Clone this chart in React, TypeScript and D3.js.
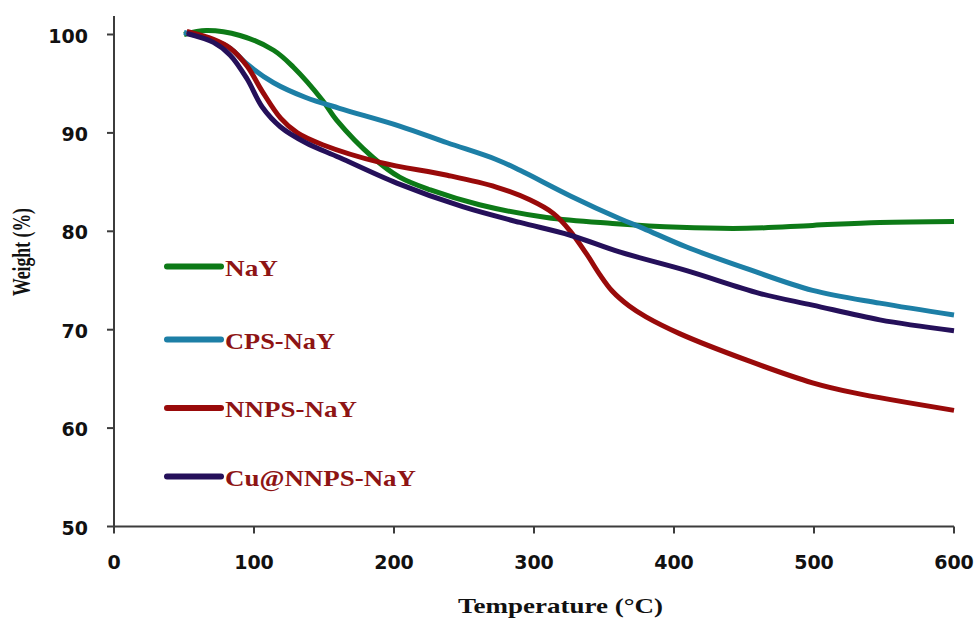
import { useEffect, useRef } from "react";
import * as d3 from "d3";

// TGA curves: temperature (°C) / weight (%)
const nayT = [50, 66, 90, 114, 128, 149, 159, 185, 204, 226, 261, 309, 356, 404, 452, 499, 547, 600];
const nayW = [100, 100.4, 99.9, 98.4, 96.7, 93.3, 91.3, 87.5, 85.5, 84.2, 82.7, 81.4, 80.8, 80.4, 80.3, 80.6, 80.9, 81.0];

const cpsT = [50, 71, 83, 95, 114, 137, 161, 204, 238, 273, 290, 326, 361, 378, 409, 452, 499, 547, 600];
const cpsW = [100.2, 99.4, 98.6, 97.0, 95.1, 93.6, 92.5, 90.7, 89.0, 87.3, 86.2, 83.6, 81.3, 80.3, 78.4, 76.2, 74.0, 72.7, 71.5];

const nnpsT = [52, 71, 83, 95, 106, 119, 131, 149, 190, 238, 273, 297, 314, 326, 338, 347, 356, 368, 380, 404, 452, 499, 528, 600];
const nnpsW = [100.3, 99.5, 98.6, 96.8, 94.2, 91.5, 90.0, 88.8, 87.0, 85.7, 84.5, 83.2, 81.8, 80.0, 77.6, 75.6, 73.9, 72.4, 71.3, 69.6, 66.9, 64.6, 63.6, 61.8];

const cuT = [52, 71, 83, 95, 106, 119, 137, 161, 202, 249, 290, 326, 361, 409, 461, 499, 547, 600];
const cuW = [100.1, 99.2, 97.9, 95.5, 92.6, 90.6, 89.0, 87.5, 84.9, 82.5, 80.9, 79.6, 77.9, 76.0, 73.7, 72.5, 71.0, 69.9];

const seriesNames = ["NaY", "CPS-NaY", "NNPS-NaY", "Cu@NNPS-NaY"];
const seriesColors = ["#0d7a17", "#1d7fa6", "#990a0a", "#25105a"];
const labelWidths = [53, 110, 132, 191];

const xTicks = [0, 100, 200, 300, 400, 500, 600];
const yTicks = [50, 60, 70, 80, 90, 100];

function App() {
  const canvas = useRef<SVGSVGElement>(null);

  useEffect(() => {
    const svg = d3.select(canvas.current);
    svg.selectAll("*").remove();

    const x = d3.scaleLinear().domain([0, 600]).range([114, 954]);
    const y = d3.scaleLinear().domain([50, 100]).range([526.5, 34.5]);
    const axisColor = "#3c3c3c";

    // axes
    svg.append("line")
      .attr("x1", x(0)).attr("x2", x(0))
      .attr("y1", 16).attr("y2", y(50))
      .attr("stroke", axisColor).attr("stroke-width", 2);
    svg.append("line")
      .attr("x1", x(0)).attr("x2", x(600))
      .attr("y1", y(50)).attr("y2", y(50))
      .attr("stroke", axisColor).attr("stroke-width", 2);

    svg.selectAll(".ytick")
      .data(yTicks)
      .join("line")
      .attr("class", "ytick")
      .attr("x1", x(0) - 7).attr("x2", x(0))
      .attr("y1", d => y(d)).attr("y2", d => y(d))
      .attr("stroke", axisColor).attr("stroke-width", 2);
    svg.selectAll(".ylab")
      .data(yTicks)
      .join("text")
      .attr("class", "ylab")
      .attr("x", 88)
      .attr("y", d => y(d) + 8)
      .attr("text-anchor", "end")
      .attr("font-family", "DejaVu Sans")
      .attr("font-weight", "bold")
      .attr("font-size", 19)
      .attr("fill", "#111")
      .text(d => d);

    svg.selectAll(".xtick")
      .data(xTicks)
      .join("line")
      .attr("class", "xtick")
      .attr("x1", d => x(d)).attr("x2", d => x(d))
      .attr("y1", y(50)).attr("y2", y(50) + 7)
      .attr("stroke", axisColor).attr("stroke-width", 2);
    svg.selectAll(".xlab")
      .data(xTicks)
      .join("text")
      .attr("class", "xlab")
      .attr("x", d => x(d))
      .attr("y", 569)
      .attr("text-anchor", "middle")
      .attr("font-family", "DejaVu Sans")
      .attr("font-weight", "bold")
      .attr("font-size", 19)
      .attr("fill", "#111")
      .text(d => d);

    // titles
    svg.append("text")
      .attr("x", 458).attr("y", 613)
      .attr("font-family", "Liberation Serif")
      .attr("font-weight", "bold")
      .attr("font-size", 22)
      .attr("textLength", 205)
      .attr("lengthAdjust", "spacingAndGlyphs")
      .attr("fill", "#111")
      .text("Temperature (°C)");
    svg.append("text")
      .attr("transform", "translate(30,296) rotate(-90)")
      .attr("font-family", "Liberation Serif")
      .attr("font-weight", "bold")
      .attr("font-size", 25)
      .attr("textLength", 88)
      .attr("lengthAdjust", "spacingAndGlyphs")
      .attr("fill", "#111")
      .text("Weight (%)");

    // curves
    const all = [
      d3.zip(nayT, nayW),
      d3.zip(cpsT, cpsW),
      d3.zip(nnpsT, nnpsW),
      d3.zip(cuT, cuW),
    ];
    const line = d3.line<number[]>()
      .x(d => x(d[0]))
      .y(d => y(d[1]))
      .curve(d3.curveCatmullRom.alpha(0.5));

    svg.selectAll(".curve")
      .data(all)
      .join("path")
      .attr("class", "curve")
      .attr("d", d => line(d))
      .attr("fill", "none")
      .attr("stroke", (d, i) => seriesColors[i])
      .attr("stroke-width", 5)
      .attr("stroke-linejoin", "round");

    // legend
    const legY = [266.5, 339.5, 408, 476.5];
    svg.selectAll(".legline")
      .data(seriesNames)
      .join("line")
      .attr("class", "legline")
      .attr("x1", 167).attr("x2", 221)
      .attr("y1", (d, i) => legY[i]).attr("y2", (d, i) => legY[i])
      .attr("stroke", (d, i) => seriesColors[i])
      .attr("stroke-width", 6)
      .attr("stroke-linecap", "round");
    svg.selectAll(".leglab")
      .data(seriesNames)
      .join("text")
      .attr("class", "leglab")
      .attr("x", 225)
      .attr("y", (d, i) => legY[i] + 9)
      .attr("font-family", "Liberation Serif")
      .attr("font-weight", "bold")
      .attr("font-size", 23)
      .attr("textLength", (d, i) => labelWidths[i])
      .attr("lengthAdjust", "spacingAndGlyphs")
      .attr("fill", "#8e1414")
      .text(d => d);
  }, []);

  return (
    <svg
      ref={canvas}
      width={976}
      height={619}
      style={{ position: "absolute", left: 0, top: 0, background: "#fff" }}
    />
  );
}

export default App;
